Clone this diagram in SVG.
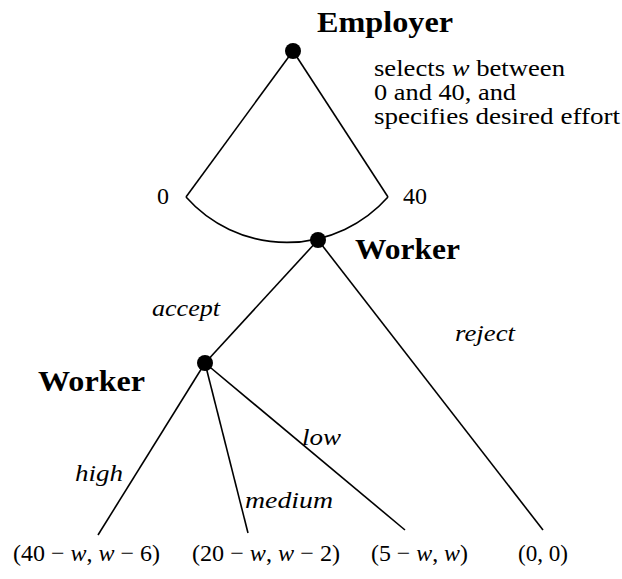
<svg xmlns="http://www.w3.org/2000/svg" width="622" height="579" viewBox="0 0 622 579">
<style>
.e{stroke:#000;stroke-width:1.6;fill:none}
.n{fill:#000}
text{font-family:"Liberation Serif","Times New Roman",serif;fill:#000}
.b{font-weight:bold;font-size:30px}
.t{font-size:24px}
.i{font-style:italic;font-size:24px}
</style>
<rect width="622" height="579" fill="#fff"/>
<g id="connectors">
<path class="e" d="M293,51 L186,197"/>
<path class="e" d="M293,51 L388,197"/>
<path class="e" d="M186,197 A135,135 0 0 0 388,197"/>
<path class="e" d="M318,240 L205,363"/>
<path class="e" d="M318,240 L543,530"/>
<path class="e" d="M205,363 L98,535"/>
<path class="e" d="M205,363 L248,533"/>
<path class="e" d="M205,363 L405,530"/>
</g>
<g id="employer">
<circle class="n" cx="293" cy="51" r="8"/>
<text class="b" x="317" y="32" textLength="136" lengthAdjust="spacingAndGlyphs">Employer</text>
<text class="t" x="374" y="76" textLength="191" lengthAdjust="spacingAndGlyphs">selects <tspan font-style="italic">w</tspan> between</text>
<text class="t" x="374" y="100" textLength="142" lengthAdjust="spacingAndGlyphs">0 and 40, and</text>
<text class="t" x="374" y="124" textLength="246" lengthAdjust="spacingAndGlyphs">specifies desired effort</text>
<text class="t" x="157" y="204">0</text>
<text class="t" x="403" y="204">40</text>
</g>
<g id="worker1">
<circle class="n" cx="318" cy="240" r="8"/>
<text class="b" x="355" y="259" textLength="105" lengthAdjust="spacingAndGlyphs">Worker</text>
<text class="i" x="152" y="316" textLength="68" lengthAdjust="spacingAndGlyphs">accept</text>
<text class="i" x="455" y="341" textLength="60" lengthAdjust="spacingAndGlyphs">reject</text>
</g>
<g id="worker2">
<circle class="n" cx="205" cy="363" r="8"/>
<text class="b" x="38" y="391" textLength="107" lengthAdjust="spacingAndGlyphs">Worker</text>
<text class="i" x="302" y="445" textLength="39" lengthAdjust="spacingAndGlyphs">low</text>
<text class="i" x="75" y="481" textLength="48" lengthAdjust="spacingAndGlyphs">high</text>
<text class="i" x="245" y="508" textLength="88" lengthAdjust="spacingAndGlyphs">medium</text>
</g>
<g id="leaves">
<text class="t" x="13" y="561" textLength="147" lengthAdjust="spacingAndGlyphs">(40 − <tspan font-style="italic">w</tspan>, <tspan font-style="italic">w</tspan> − 6)</text>
<text class="t" x="192" y="561" textLength="148" lengthAdjust="spacingAndGlyphs">(20 − <tspan font-style="italic">w</tspan>, <tspan font-style="italic">w</tspan> − 2)</text>
<text class="t" x="371" y="561" textLength="97" lengthAdjust="spacingAndGlyphs">(5 − <tspan font-style="italic">w</tspan>, <tspan font-style="italic">w</tspan>)</text>
<text class="t" x="518" y="561" textLength="50" lengthAdjust="spacingAndGlyphs">(0, 0)</text>
</g>
</svg>
